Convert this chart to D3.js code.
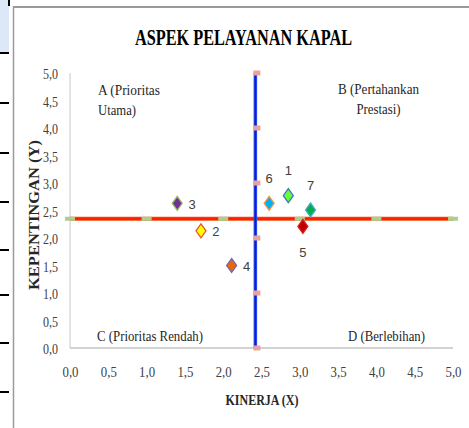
<!DOCTYPE html>
<html>
<head>
<meta charset="utf-8">
<script src="https://cdn.jsdelivr.net/npm/d3@7/dist/d3.min.js"></script>
<style>
  html, body { margin: 0; padding: 0; background: #ffffff; }
  svg { display: block; }
</style>
</head>
<body>
<svg id="chart" width="469" height="428"></svg>
<script>
// ---- data ----
const pointNames = ["1", "2", "3", "4", "5", "6", "7"];
const kinerja    = [2.85, 1.71, 1.40, 2.11, 3.04, 2.60, 3.14];   // X
const kepentingan = [2.77, 2.13, 2.63, 1.50, 2.21, 2.63, 2.51];  // Y
const meanX = 2.42;
const meanY = 2.35;
const axisTicks = [0, 0.5, 1, 1.5, 2, 2.5, 3, 3.5, 4, 4.5, 5];
const lineSteps = [0, 1, 2, 3, 4, 5];
const quadrantA = ["A (Prioritas", "Utama)"];
const quadrantB = ["B (Pertahankan", "Prestasi)"];
const quadrantC = ["C (Prioritas Rendah)"];
const quadrantD = ["D (Berlebihan)"];
const titleText = "ASPEK PELAYANAN KAPAL";
const xTitle = "KINERJA (X)";
const yTitle = "KEPENTINGAN (Y)";

// ---- styles ----
const fills   = ["#66ff33", "#ffff00", "#7030a0", "#e36c0a", "#c00000", "#00b0f0", "#00b050"];
const strokes = ["#4472c4", "#e8582c", "#9bbb59", "#8064a2", "#e02020", "#f79646", "#4bacc6"];
const labelPos = ["top", "right", "right", "right", "bottom", "top", "top"];

const svg = d3.select("#chart");
const serif = "'Liberation Serif', 'Times New Roman', serif";

// page decorations (surrounding document)
svg.append("rect").attr("x", 0).attr("y", 0).attr("width", 9).attr("height", 53).attr("fill", "#dce8f8");
svg.append("rect").attr("x", 8).attr("y", 0).attr("width", 2).attr("height", 6).attr("fill", "#000");
[53, 103, 153, 202, 250, 295, 343, 392].forEach(yy => {
  svg.append("rect").attr("x", 0).attr("y", yy - 1).attr("width", 9).attr("height", 2).attr("fill", "#000");
});
// chart frame
svg.append("line").attr("x1", 13).attr("x2", 469).attr("y1", 7).attr("y2", 7)
  .attr("stroke", "#9a9a9a").attr("stroke-width", 2);
svg.append("line").attr("x1", 13.5).attr("x2", 13.5).attr("y1", 6).attr("y2", 428)
  .attr("stroke", "#9a9a9a").attr("stroke-width", 1.5);

// scales
const x = d3.scaleLinear().domain([0, 5]).range([70, 453]);
const y = d3.scaleLinear().domain([0, 5]).range([348, 73]);
const fmt = d => d3.format(".1f")(d).replace(".", ",");

// title
svg.append("text").attr("x", 243.5).attr("y", 45).attr("text-anchor", "middle")
  .attr("font-family", serif).attr("font-weight", "bold").attr("font-size", 22.5)
  .attr("textLength", 217).attr("lengthAdjust", "spacingAndGlyphs")
  .attr("fill", "#000").text(titleText);

// axes lines
svg.append("line").attr("x1", x(0)).attr("x2", x(5)).attr("y1", y(0)).attr("y2", y(0))
  .attr("stroke", "#a6a6a6").attr("stroke-width", 1);
svg.append("line").attr("x1", x(0)).attr("x2", x(0)).attr("y1", y(0)).attr("y2", y(5))
  .attr("stroke", "#c8c8c8").attr("stroke-width", 1);

// x axis ticks
const gx = svg.append("g").attr("transform", `translate(0,${y(0)})`)
  .call(d3.axisBottom(x).tickValues(axisTicks).tickFormat(fmt).tickSize(0).tickPadding(18));
gx.select(".domain").remove();
gx.selectAll("text").attr("font-family", serif).attr("font-size", 15).attr("fill", "#404040")
  .attr("textLength", 16).attr("lengthAdjust", "spacingAndGlyphs");

// y axis ticks
const gy = svg.append("g").attr("transform", `translate(${x(0)},0)`)
  .call(d3.axisLeft(y).tickValues(axisTicks).tickFormat(fmt).tickSize(0).tickPadding(12));
gy.select(".domain").remove();
gy.selectAll("text").attr("font-family", serif).attr("font-size", 14).attr("fill", "#404040")
  .attr("textLength", 15).attr("lengthAdjust", "spacingAndGlyphs").attr("dy", "0.42em");

// axis titles
svg.append("text").attr("x", 262).attr("y", 405).attr("text-anchor", "middle")
  .attr("font-family", serif).attr("font-weight", "bold").attr("font-size", 15.5)
  .attr("textLength", 73).attr("lengthAdjust", "spacingAndGlyphs")
  .attr("fill", "#262626").text(xTitle);
svg.append("text").attr("transform", "translate(39,215) rotate(-90)").attr("text-anchor", "middle")
  .attr("font-family", serif).attr("font-weight", "bold").attr("font-size", 14)
  .attr("textLength", 150).attr("lengthAdjust", "spacingAndGlyphs")
  .attr("fill", "#262626").text(yTitle);

// quadrant labels
function quad(lines, xx, yy, anchor, widths) {
  lines.forEach((t, i) => {
    svg.append("text").attr("x", xx).attr("y", yy + i * 20).attr("text-anchor", anchor)
      .attr("font-family", serif).attr("font-size", 15.5).attr("fill", "#262626")
      .attr("textLength", widths[i]).attr("lengthAdjust", "spacingAndGlyphs").text(t);
  });
}
quad(quadrantA, 98, 95, "start", [62, 38]);
quad(quadrantB, 378.5, 94, "middle", [81, 44]);
quad(quadrantC, 97, 341, "start", [106]);
quad(quadrantD, 348, 341, "start", [77]);

// horizontal mean line (red) with green markers
const hLine = d3.line().x(d => x(d)).y(() => y(meanY));
svg.append("path").attr("d", hLine(lineSteps)).attr("fill", "none")
  .attr("stroke", "#f04a10").attr("stroke-width", 4);
svg.append("path").attr("d", hLine(lineSteps)).attr("fill", "none")
  .attr("stroke", "#ff1a00").attr("stroke-width", 2);
svg.selectAll(".gm").data(lineSteps).enter().append("rect")
  .attr("x", d => x(d) - 5).attr("y", y(meanY) - 2).attr("width", 10).attr("height", 4)
  .attr("fill", "#a9d08e");

// vertical mean line (blue) with pink markers
const vLine = d3.line().x(() => x(meanX)).y(d => y(d));
svg.append("path").attr("d", vLine(lineSteps)).attr("fill", "none")
  .attr("stroke", "#2848f0").attr("stroke-width", 3.5);
svg.append("path").attr("d", vLine(lineSteps)).attr("fill", "none")
  .attr("stroke", "#1420b0").attr("stroke-width", 1.5);
svg.selectAll(".pm").data(lineSteps).enter().append("rect")
  .attr("x", x(meanX) - 2).attr("y", d => y(d) - 2.5).attr("width", 7).attr("height", 5)
  .attr("fill", "#e8a2a2");

// points (diamonds)
const pts = pointNames.map((n, i) => ({ n, x: kinerja[i], y: kepentingan[i], i }));
const diamond = "M0,-7 L5,0 L0,7 L-5,0 Z";
svg.selectAll(".pt").data(pts).enter().append("path")
  .attr("d", diamond)
  .attr("transform", d => `translate(${x(d.x)},${y(d.y)})`)
  .attr("fill", d => fills[d.i]).attr("stroke", d => strokes[d.i]).attr("stroke-width", 1.3);

// point labels
svg.selectAll(".pl").data(pts).enter().append("text")
  .attr("x", d => x(d.x) + (labelPos[d.i] === "right" ? 15 : 0))
  .attr("y", d => y(d.y) + (labelPos[d.i] === "top" ? -25 : labelPos[d.i] === "bottom" ? 26 : 1))
  .attr("dy", "0.35em")
  .attr("text-anchor", "middle")
  .attr("font-family", "'Liberation Sans', Arial, sans-serif").attr("font-size", 13)
  .attr("fill", "#404040")
  .text(d => d.n);
</script>
</body>
</html>
